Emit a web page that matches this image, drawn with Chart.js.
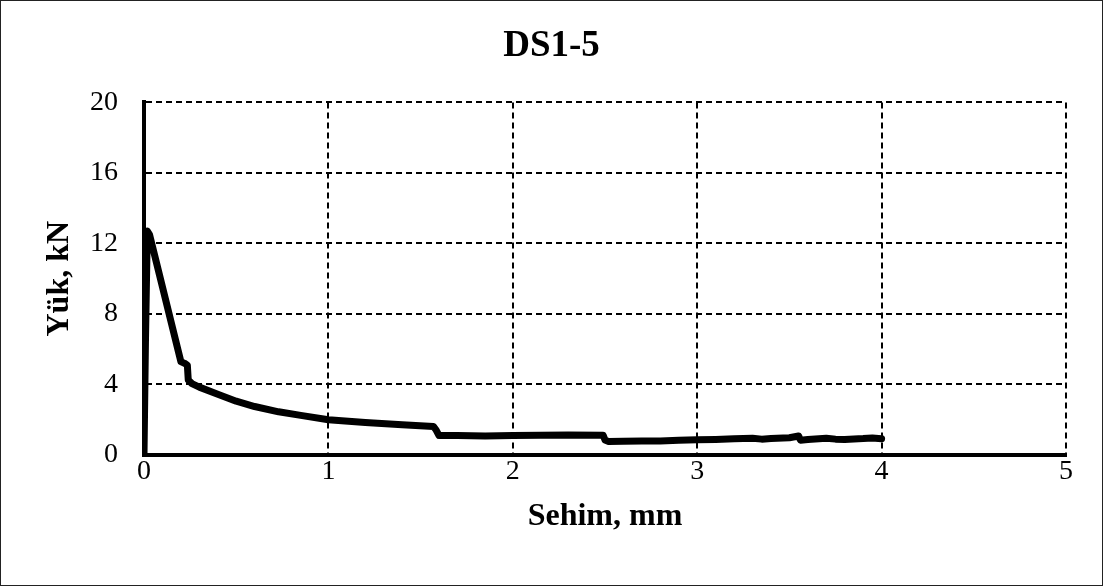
<!DOCTYPE html>
<html>
<head>
<meta charset="utf-8">
<script src="https://cdn.jsdelivr.net/npm/chart.js@4/dist/chart.umd.min.js"></script>
<style>
  html, body { margin: 0; padding: 0; background: #fff; }
  #wrap { width: 1101px; height: 584px; border: 1px solid #222; }
</style>
</head>
<body>
<div id="wrap"><canvas id="chart" width="1101" height="584"></canvas></div>
<script>
// Sehim (mm) and Yük (kN)
const deflection = [0, 0.008, 0.018, 0.03, 0.2, 0.22, 0.235, 0.24, 0.26, 0.3, 0.4, 0.5, 0.6, 0.73,
  0.85, 1.0, 1.2, 1.4, 1.57, 1.585, 1.6, 1.7, 1.85, 2.0, 2.15, 2.3, 2.49, 2.5, 2.52, 2.6, 2.7,
  2.8, 2.9, 3.0, 3.1, 3.2, 3.3, 3.35, 3.4, 3.5, 3.55, 3.56, 3.6, 3.7, 3.75, 3.8, 3.9, 3.95, 4.0];
const load = [0, 6.5, 12.7, 12.5, 5.3, 5.2, 5.1, 4.25, 4.05, 3.85, 3.45, 3.05, 2.75, 2.45,
  2.25, 2.0, 1.85, 1.72, 1.62, 1.4, 1.1, 1.1, 1.08, 1.1, 1.12, 1.14, 1.12, 0.85, 0.76, 0.78, 0.79,
  0.8, 0.83, 0.86, 0.88, 0.92, 0.95, 0.9, 0.93, 0.98, 1.08, 0.84, 0.88, 0.95, 0.9, 0.88, 0.93, 0.97, 0.92];
const xTicks = [0, 1, 2, 3, 4, 5];
const yTicks = [0, 4, 8, 12, 16, 20];

const serif = 'Liberation Serif';
const grid = {
  color: '#000',
  lineWidth: 2,
  drawTicks: false
};
// in v4 border.dash dashes the grid lines, the axis line stays solid
const border = { color: '#000', width: 4, dash: [6, 4] };

new Chart(document.getElementById('chart'), {
  type: 'scatter',
  data: {
    datasets: [{
      data: deflection.map((x, i) => ({ x, y: load[i] })),
      showLine: true,
      borderColor: '#000',
      borderWidth: 7,
      borderJoinStyle: 'round',
      borderCapStyle: 'round',
      pointRadius: 0,
      tension: 0
    }]
  },
  options: {
    responsive: false,
    animation: false,
    layout: { padding: { left: 36, right: 36, top: 0, bottom: 45 } },
    plugins: {
      legend: { display: false },
      tooltip: { enabled: false },
      title: {
        display: true,
        text: 'DS1-5',
        color: '#000',
        font: { family: serif, size: 37, weight: 'bold' },
        padding: { top: 23, bottom: 34 }
      }
    },
    scales: {
      x: {
        type: 'linear',
        min: 0, max: 5,
        afterBuildTicks: s => { s.ticks = xTicks.map(v => ({ value: v })); },
        afterFit: s => { s.height = 85; },
        grid: grid,
        border: border,
        ticks: { color: '#000', padding: 0, font: { family: serif, size: 28 } },
        title: {
          display: true,
          text: 'Sehim, mm',
          color: '#000',
          font: { family: serif, size: 32, weight: 'bold' },
          padding: { top: 10 }
        }
      },
      y: {
        min: 0, max: 20,
        afterBuildTicks: s => { s.ticks = yTicks.map(v => ({ value: v })); },
        afterFit: s => { s.width = 107; },
        grid: grid,
        border: border,
        ticks: { color: '#000', padding: 26, font: { family: serif, size: 28 } },
        title: {
          display: true,
          text: 'Yük, kN',
          color: '#000',
          font: { family: serif, size: 32, weight: 'bold' },
          padding: { bottom: 10 }
        }
      }
    }
  }
});
</script>
</body>
</html>
